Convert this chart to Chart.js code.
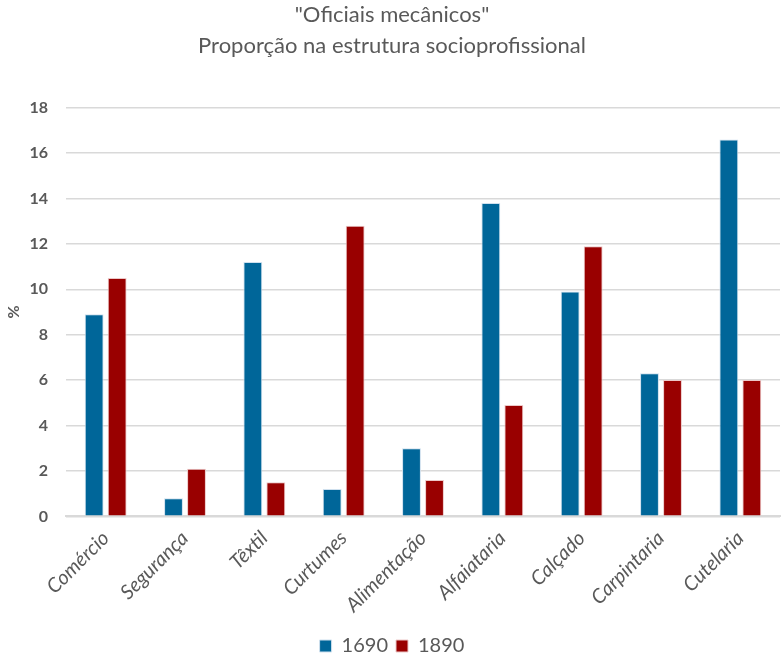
<!DOCTYPE html>
<html>
<head>
<meta charset="utf-8">
<script src="https://cdn.jsdelivr.net/npm/chart.js@4/dist/chart.umd.min.js"></script>
<style>
  html, body { margin: 0; padding: 0; background: #fff; }
  #wrap { width: 781px; height: 656px; }
</style>
</head>
<body>
<div id="wrap"><canvas id="chart" width="781" height="656"></canvas></div>
<script>
const categories = ['Comércio', 'Segurança', 'Têxtil', 'Curtumes', 'Alimentação', 'Alfaiataria', 'Calçado', 'Carpintaria', 'Cutelaria'];
const values1690 = [8.9, 0.8, 11.2, 1.2, 3.0, 13.8, 9.9, 6.3, 16.6];
const values1890 = [10.5, 2.1, 1.5, 12.8, 1.6, 4.9, 11.9, 6.0, 6.0];
const seriesNames = ['1690', '1890'];
const yTicks = [0, 2, 4, 6, 8, 10, 12, 14, 16, 18];

const fontFamily = "Lato, 'Open Sans', sans-serif";
const grey = '#595959';

const ctx = document.getElementById('chart').getContext('2d');
new Chart(ctx, {
    type: 'bar',
    data: {
        labels: categories,
        datasets: [{
            label: seriesNames[0],
            data: values1690,
            backgroundColor: '#006699',
            borderColor: '#cfe0ee',
            borderWidth: 1,
            categoryPercentage: 0.58,
            barPercentage: 0.82
        }, {
            label: seriesNames[1],
            data: values1890,
            backgroundColor: '#990000',
            borderColor: '#ecc8c8',
            borderWidth: 1,
            categoryPercentage: 0.58,
            barPercentage: 0.82
        }]
    },
    options: {
        responsive: false,
        animation: false,
        layout: { padding: { left: 4, right: 1, top: 0, bottom: -10 } },
        plugins: {
            title: {
                display: true,
                text: ['"Oficiais mecânicos"', 'Proporção na estrutura socioprofissional'],
                color: grey,
                font: { family: fontFamily, size: 22, weight: 'normal', lineHeight: 1.4 },
                padding: { top: 0, bottom: 46 }
            },
            legend: {
                position: 'bottom',
                labels: {
                    color: grey,
                    font: { family: fontFamily, size: 20 },
                    boxWidth: 12,
                    boxHeight: 12,
                    padding: 8
                }
            },
            tooltip: { enabled: false }
        },
        scales: {
            x: {
                grid: { display: false },
                border: { color: '#d9d9d9', width: 2 },
                afterFit: axis => { axis.height += 9; },
                ticks: {
                    color: grey,
                    font: { family: fontFamily, size: 20, style: 'italic' },
                    minRotation: 45,
                    maxRotation: 45,
                    padding: 2
                }
            },
            y: {
                min: 0,
                max: 18,
                afterBuildTicks: axis => { axis.ticks = yTicks.map(v => ({ value: v })); },
                afterFit: axis => { axis.width = 62; },
                grid: { color: '#d9d9d9', lineWidth: 1.5, drawTicks: false },
                border: { display: false },
                title: {
                    display: true,
                    text: '%',
                    color: grey,
                    font: { family: fontFamily, size: 16, weight: 'bold' },
                    padding: { top: 0, bottom: 0 }
                },
                ticks: {
                    color: grey,
                    font: { family: fontFamily, size: 16, weight: 'bold' },
                    padding: 18
                }
            }
        }
    }
});
</script>
</body>
</html>
